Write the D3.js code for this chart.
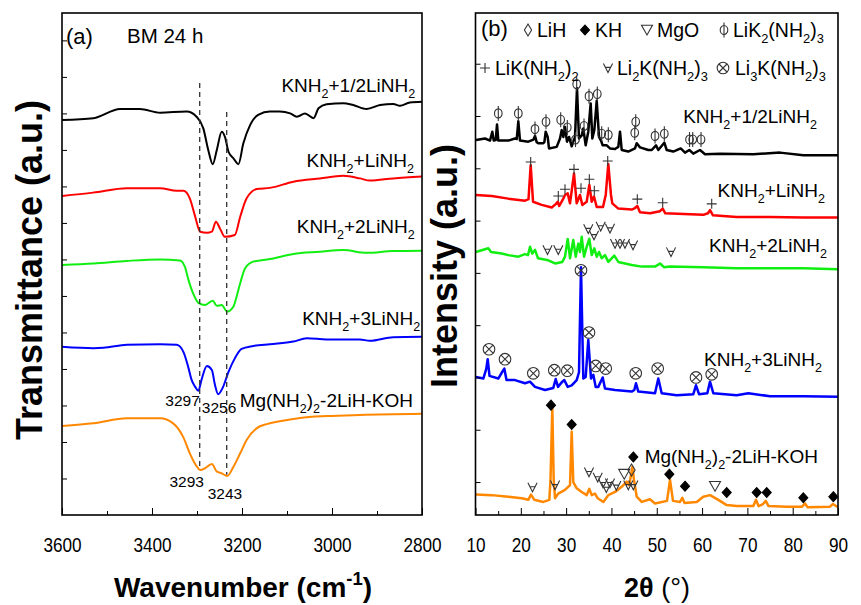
<!DOCTYPE html>
<html>
<head>
<meta charset="utf-8">
<script src="https://cdn.jsdelivr.net/npm/d3@7"></script>
<style>
body { margin: 0; background: #fff; }
text { font-family: Arial, "Liberation Sans", sans-serif; fill: #000; }
</style>
</head>
<body>
<div id="chart"></div>
<script>
// ---- FTIR data (wavenumber cm-1, transmittance a.u.) ----
var ftirBlack = [[3600,10.82],[3530,10.87],[3471,11.12],[3427,11.12],[3382,11.02],[3323,11.05],[3301,10.91],[3286,10.59],[3275,10.00],[3265,9.61],[3256,10.00],[3245,10.50],[3238,10.36],[3230,9.95],[3219,9.77],[3208,9.61],[3197,10.18],[3182,10.68],[3164,10.96],[3138,11.05],[3116,11.05],[3093,11.00],[3078,10.91],[3060,11.00],[3041,10.87],[3030,11.14],[3012,11.25],[2975,11.28],[2953,11.23],[2923,11.12],[2893,11.23],[2864,11.26],[2849,11.21],[2827,11.30],[2800,11.32]];
var ftirRed = [[3600,8.74],[3531,8.83],[3456,8.95],[3382,8.95],[3345,8.88],[3330,8.88],[3316,8.67],[3304,8.17],[3293,7.76],[3278,7.73],[3267,7.76],[3258,8.03],[3249,7.85],[3238,7.62],[3216,7.67],[3204,8.17],[3190,8.67],[3167,8.93],[3138,8.96],[3086,9.13],[3027,9.22],[2975,9.29],[2938,9.22],[2916,9.16],[2864,9.22],[2800,9.27]];
var ftirGreen = [[3600,6.85],[3530,6.89],[3456,6.96],[3382,7.00],[3338,6.97],[3327,6.80],[3319,6.44],[3308,6.05],[3297,5.81],[3282,5.75],[3275,5.80],[3265,5.87],[3256,5.73],[3245,5.75],[3233,5.57],[3219,5.71],[3212,5.98],[3204,6.35],[3193,6.76],[3175,6.94],[3138,7.01],[3086,7.15],[3027,7.21],[2975,7.26],[2923,7.18],[2864,7.23],[2800,7.24]];
var ftirBlue = [[3600,4.61],[3530,4.57],[3508,4.58],[3456,4.66],[3382,4.68],[3345,4.66],[3330,4.46],[3319,4.03],[3312,3.70],[3304,3.51],[3297,3.40],[3290,3.70],[3278,4.08],[3267,3.97],[3260,3.56],[3253,3.31],[3242,3.51],[3230,3.92],[3216,4.29],[3201,4.55],[3175,4.63],[3138,4.68],[3086,4.75],[3056,4.84],[3012,4.81],[2938,4.81],[2916,4.77],[2864,4.87],[2800,4.88]];
var ftirOrange = [[3600,2.44],[3530,2.51],[3456,2.65],[3382,2.65],[3353,2.51],[3330,2.12],[3316,1.69],[3301,1.34],[3293,1.23],[3282,1.28],[3267,1.40],[3256,1.19],[3245,1.14],[3233,1.07],[3219,1.32],[3204,1.69],[3190,2.05],[3167,2.38],[3145,2.49],[3116,2.57],[3071,2.66],[3011,2.71],[2938,2.74],[2800,2.77]];

// ---- XRD data (2theta deg, intensity a.u.) ----
var xrdBlack = [[10.1,6.54],[12.1,6.57],[13.2,6.53],[13.71,6.70],[14.02,6.53],[14.46,6.54],[14.75,6.84],[15.03,6.53],[17.24,6.53],[18.72,6.57],[19.1,6.56],[19.45,6.90],[19.82,6.53],[21.65,6.51],[22.8,6.55],[23.13,6.62],[23.5,6.5],[23.86,6.48],[24.9,6.48],[25.2,6.5],[25.49,6.70],[25.93,6.60],[26.22,6.38],[27.92,6.41],[28.65,6.57],[29.02,6.73],[29.38,6.60],[29.75,6.79],[30.19,6.51],[30.64,6.60],[31.23,6.42],[31.96,6.60],[32.4,7.53],[32.84,6.57],[33.44,6.63],[33.79,6.76],[34.32,6.44],[34.89,6.70],[35.42,7.24],[35.78,6.57],[36.22,6.73],[36.75,7.29],[37.26,6.60],[37.70,6.53],[38.07,6.44],[38.96,6.44],[39.68,6.38],[40.79,6.37],[41.52,6.41],[41.89,6.70],[42.27,6.35],[43.72,6.32],[45.2,6.38],[45.58,6.48],[46.3,6.40],[48.14,6.35],[48.89,6.35],[49.84,6.44],[50.34,6.35],[51.67,6.49],[52.2,6.35],[53.65,6.32],[55.29,6.38],[56.24,6.30],[57.19,6.35],[58.07,6.28],[59.55,6.35],[60.65,6.27],[63.96,6.28],[71.31,6.27],[77.2,6.30],[82.35,6.25],[90,6.25]];
var xrdRed = [[10.1,5.49],[13.58,5.47],[17.24,5.42],[20.92,5.38],[21.7,5.41],[22.18,6.06],[22.7,5.36],[24.61,5.30],[26.82,5.25],[27.77,5.32],[28.14,5.36],[28.49,5.28],[29.38,5.42],[29.75,5.49],[30.35,5.52],[30.86,5.33],[31.74,5.90],[32.33,5.33],[33.06,5.49],[33.57,5.30],[34.54,5.36],[35.12,5.68],[35.65,5.36],[36.15,5.46],[36.75,5.26],[38.14,5.26],[38.74,5.49],[39.31,6.08],[39.9,5.49],[40.19,5.33],[41.52,5.23],[44.47,5.21],[45.2,5.24],[45.71,5.28],[46.3,5.16],[48.51,5.14],[50.72,5.18],[51.31,5.23],[51.89,5.14],[57.34,5.12],[60.27,5.11],[61.31,5.14],[61.75,5.20],[62.41,5.10],[67.65,5.07],[75,5.07],[82.35,5.06],[90,5.06]];
var xrdGreen = [[10.1,4.40],[12.82,4.47],[13.42,4.40],[15.78,4.37],[17.24,4.34],[19.45,4.31],[20.92,4.36],[21.59,4.34],[22.03,4.50],[22.54,4.37],[23.13,4.44],[23.79,4.28],[26.07,4.24],[27.55,4.18],[29.16,4.21],[29.75,4.31],[30.35,4.65],[30.86,4.28],[31.58,4.63],[32.11,4.31],[32.69,4.56],[33.06,4.40],[33.44,4.69],[33.95,4.31],[34.54,4.50],[35.12,4.65],[35.65,4.34],[36.22,4.47],[36.75,4.31],[37.26,4.40],[37.85,4.28],[38.58,4.34],[39.31,4.21],[40.63,4.33],[41.52,4.21],[43.0,4.18],[44.47,4.15],[46.68,4.12],[49.62,4.12],[50.72,4.18],[51.6,4.11],[52.93,4.12],[60.27,4.11],[67.65,4.09],[75,4.09],[82.35,4.09],[90,4.07]];
var xrdBlue = [[10.1,2.01],[11.72,1.98],[12.36,2.16],[12.69,2.35],[13.09,2.03],[15.03,1.98],[15.85,2.10],[16.36,2.17],[16.84,1.95],[18.72,1.95],[20.92,1.89],[22.03,1.92],[23.13,1.82],[25.34,1.76],[27.17,1.80],[27.70,1.97],[28.21,1.82],[29.16,1.92],[29.60,1.95],[30.35,1.82],[31.23,1.85],[32.33,1.95],[32.84,2.10],[33.28,4.11],[33.79,1.98],[34.32,2.01],[34.89,2.72],[35.49,1.98],[36.0,2.05],[36.53,1.82],[37.10,1.82],[38.07,2.00],[38.58,1.79],[40.79,1.76],[44.47,1.73],[45.05,1.76],[45.42,1.89],[45.93,1.73],[49.62,1.70],[50.34,1.98],[51.09,1.70],[54.40,1.66],[58.07,1.68],[58.66,1.85],[59.33,1.68],[61.16,1.70],[61.75,1.92],[62.48,1.70],[67.65,1.66],[70.21,1.70],[75,1.64],[82.35,1.64],[90,1.63]];
var xrdOrange = [[10.1,-0.24],[13.58,-0.25],[17.24,-0.28],[20.20,-0.31],[21.65,-0.34],[22.25,-0.24],[22.98,-0.34],[24.96,-0.38],[26.29,-0.34],[26.55,0.04],[26.95,1.41],[27.26,0.04],[27.55,-0.31],[28.27,-0.22],[29.75,-0.15],[30.86,-0.06],[31.23,0.96],[31.58,0.0],[32.33,-0.12],[33.44,-0.19],[34.54,-0.25],[35.12,-0.13],[35.65,-0.25],[36.37,-0.22],[36.97,-0.31],[38.21,-0.38],[39.31,-0.25],[40.79,-0.19],[42.27,-0.09],[43.37,0.01],[43.94,-0.06],[44.61,0.29],[44.98,0.04],[45.58,-0.28],[46.68,-0.38],[48.51,-0.33],[49.62,-0.41],[52.26,-0.36],[52.93,0.04],[53.59,-0.36],[55.13,-0.38],[55.64,-0.30],[56.13,-0.40],[58.82,-0.38],[60.27,-0.28],[61.75,-0.25],[63.59,-0.34],[65.44,-0.44],[67.65,-0.46],[71.31,-0.46],[71.91,-0.34],[72.46,-0.46],[73.45,-0.42],[74.05,-0.36],[74.67,-0.46],[78.68,-0.47],[82.06,-0.47],[82.72,-0.41],[83.27,-0.48],[88.24,-0.47],[88.83,-0.42],[90,-0.48]];

// ---- phase markers (2theta, label height) ----
var markLiK2 = [[15.03,7.05],[19.45,7.05],[23.13,6.75],[25.56,6.89],[28.8,6.93],[30.26,6.78],[32.07,6.55],[32.33,7.61],[33.95,6.81],[35.05,7.38],[36.88,7.42],[37.85,6.66],[39.31,6.64],[45.36,6.89],[45.14,6.68],[49.62,6.62],[51.67,6.66],[57.23,6.55],[57.94,6.55],[59.77,6.55]];
var markLiK = [[22.18,6.12],[28.27,5.47],[29.75,5.60],[31.74,5.98],[33.28,5.62],[35.12,5.79],[36.22,5.57],[39.18,6.14],[45.71,5.41],[51.31,5.34],[62.13,5.32]];
var markLi2K = [[25.89,4.44],[28.27,4.44],[34.89,4.84],[36.15,4.72],[37.63,4.89],[39.68,4.85],[40.79,4.56],[41.89,4.56],[42.99,4.56],[44.76,4.53],[53.15,4.40],
  [22.58,-0.10],[27.55,-0.06],[35.05,0.19],[36.97,0.09],[38.14,-0.02],[38.87,-0.11],[39.68,-0.02],[41.07,-0.07],[43.72,-0.06],[44.83,-0.06]];
var markLi3K = [[12.98,2.54],[16.51,2.35],[22.76,2.08],[27.39,2.14],[30.26,2.13],[33.28,4.05],[35.05,2.86],[36.53,2.22],[38.74,2.17],[45.36,2.08],[50.21,2.17],[58.66,2.00],[62.13,2.06]];
var markKH = [[26.66,1.47],[31.23,1.10],[44.83,0.48],[52.77,0.15],[56.24,-0.08],[65.44,-0.20],[72.06,-0.20],[74.27,-0.20],[82.35,-0.30],[88.97,-0.28]];
var markMgO = [[42.82,0.15],[62.86,-0.08]];
var markLiH = [[44.43,0.23]];

var sampleNames = ["KNH_2+1/2LiNH_2", "KNH_2+LiNH_2", "KNH_2+2LiNH_2", "KNH_2+3LiNH_2", "Mg(NH_2)_2-2LiH-KOH"];
var colors = ["#000000", "#ff0000", "#11ee11", "#0000ff", "#ff8800"];
var ftirTicks = [3600, 3400, 3200, 3000, 2800];
var xrdTicks = [10, 20, 30, 40, 50, 60, 70, 80, 90];
var peakNotes = [["3297", 3332, 2.98], ["3256", 3251, 2.79], ["3293", 3323, 0.76], ["3243", 3238, 0.45]];

var W = 861, H = 605;
var svg = d3.select("#chart").append("svg").attr("width", W).attr("height", H);

var xA = d3.scaleLinear().domain([3600, 2800]).range([62, 422]);
var yA = d3.scaleLinear().domain([0, 13.75]).range([515, 13]);
var xB = d3.scaleLinear().domain([10, 90]).range([475.5, 838]);
var yB = d3.scaleLinear().domain([-0.63, 8.97]).range([515, 13]);

// rich text with _sub and ^{sup}
function rich(sel, str, size) {
  var re = /([_^])(\{[^}]*\}|.)/g, m, last = 0, toks = [];
  while ((m = re.exec(str))) {
    if (m.index > last) toks.push({t: str.slice(last, m.index), s: 0});
    var c = m[2];
    if (c[0] == "{") c = c.slice(1, -1);
    toks.push({t: c, s: m[1] == "_" ? 1 : -1});
    last = re.lastIndex;
  }
  if (last < str.length) toks.push({t: str.slice(last), s: 0});
  var cur = 0;
  toks.forEach(function(k) {
    var target = k.s == 1 ? size * 0.3 : (k.s == -1 ? -size * 0.42 : 0);
    var ts = sel.append("tspan").attr("dy", target - cur).text(k.t);
    if (k.s) ts.attr("font-size", size * 0.66);
    cur = target;
  });
}

function mark(g, type, x, y) {
  var s = g.append("g").attr("transform", "translate(" + x + "," + y + ")")
    .attr("fill", "none").attr("stroke", "#333").attr("stroke-width", 1.1);
  if (type == "phi") {
    s.append("ellipse").attr("rx", 3.8).attr("ry", 4.5);
    s.append("line").attr("y1", -7.5).attr("y2", 7.5);
  } else if (type == "plus") {
    s.append("path").attr("d", "M-5,0H5M0,-5V5");
  } else if (type == "forall") {
    s.append("path").attr("d", "M-4.6,-4.6L0,4.6L4.6,-4.6M-2.6,-0.6H2.6");
  } else if (type == "otimes") {
    s.append("circle").attr("r", 5.8);
    s.append("path").attr("d", "M-4,-4L4,4M-4,4L4,-4");
  } else if (type == "tri") {
    s.append("path").attr("d", "M-5.5,-4.8H5.5L0,5Z");
  } else if (type == "kh") {
    s.append("path").attr("d", "M0,-5L4.5,0L0,5L-4.5,0Z").attr("fill", "#000").attr("stroke", "#000");
  } else if (type == "lih") {
    s.append("path").attr("d", "M0,-6L3.6,0L0,6L-3.6,0Z");
  }
}

function tickText(g) {
  g.select(".domain").remove();
  g.selectAll("text").attr("font-size", 20).attr("font-family", "Arial, 'Liberation Sans', sans-serif")
    .attr("transform", "scale(0.86,1)");
}

// ================= panel (a) FTIR =================
var ga = svg.append("g");
var lineA = d3.line().x(function(d) { return xA(d[0]); }).y(function(d) { return yA(d[1]); }).curve(d3.curveMonotoneX);
[ftirBlack, ftirRed, ftirGreen, ftirBlue, ftirOrange].forEach(function(s, i) {
  ga.append("path").datum(s).attr("d", lineA).attr("fill", "none")
    .attr("stroke", colors[i]).attr("stroke-width", 2);
});

// dashed guides
ga.append("line").attr("x1", xA(3294)).attr("x2", xA(3294)).attr("y1", yA(11.83)).attr("y2", yA(1.25))
  .attr("stroke", "#333").attr("stroke-width", 1.3).attr("stroke-dasharray", "5,4");
ga.append("line").attr("x1", xA(3234)).attr("x2", xA(3234)).attr("y1", yA(11.04)).attr("y2", yA(1.1))
  .attr("stroke", "#333").attr("stroke-width", 1.3).attr("stroke-dasharray", "5,4");

peakNotes.forEach(function(p) {
  ga.append("text").attr("x", xA(p[1])).attr("y", yA(p[2])).attr("text-anchor", "middle")
    .attr("font-size", 15.5).text(p[0]);
});

var labA = [[2815, 11.59], [2818, 9.53], [2816, 7.72], [2804, 5.20], [2820, 2.96]];
sampleNames.forEach(function(n, i) {
  var t = ga.append("text").attr("x", xA(labA[i][0])).attr("y", yA(labA[i][1]))
    .attr("text-anchor", "end").attr("font-size", 19);
  rich(t, n, 19);
});

ga.append("text").attr("x", 66).attr("y", 44).attr("font-size", 22).text("(a)");
ga.append("text").attr("x", 127).attr("y", 43).attr("font-size", 20.5).text("BM 24 h");

// axes a
ga.append("g").attr("transform", "translate(0,515)")
  .call(d3.axisBottom(xA).tickValues(ftirTicks).tickSize(-7).tickPadding(23).tickFormat(d3.format("d")))
  .call(tickText);
ga.append("g").attr("transform", "translate(0,515)")
  .call(d3.axisBottom(xA).tickValues([3500, 3300, 3100, 2900]).tickSize(-4).tickFormat(""))
  .call(function(g) { g.select(".domain").remove(); });
ga.append("g").attr("transform", "translate(62,0)")
  .call(d3.axisLeft(yA).tickValues(d3.range(1, 14)).tickSize(-5).tickFormat(""))
  .call(function(g) { g.select(".domain").remove(); });
ga.append("rect").attr("x", 62).attr("y", 13).attr("width", 360).attr("height", 502)
  .attr("fill", "none").attr("stroke", "#000").attr("stroke-width", 1.6);

// ================= panel (b) XRD =================
var gb = svg.append("g");
var lineB = d3.line().x(function(d) { return xB(d[0]); }).y(function(d) { return yB(d[1]); });
[xrdBlack, xrdRed, xrdGreen, xrdBlue, xrdOrange].forEach(function(s, i) {
  gb.append("path").datum(s).attr("d", lineB).attr("fill", "none")
    .attr("stroke", colors[i]).attr("stroke-width", 2.5).attr("stroke-linejoin", "round");
});

var markSets = [[markLiK2, "phi"], [markLiK, "plus"], [markLi2K, "forall"], [markLi3K, "otimes"],
  [markKH, "kh"], [markMgO, "tri"], [markLiH, "lih"]];
markSets.forEach(function(ms) {
  ms[0].forEach(function(d) { mark(gb, ms[1], xB(d[0]), yB(d[1])); });
});

var labB = [[85.37, 6.86], [87.13, 5.45], [87.58, 4.40], [86.47, 2.22], [85.59, 0.36]];
sampleNames.forEach(function(n, i) {
  var t = gb.append("text").attr("x", xB(labB[i][0])).attr("y", yB(labB[i][1]))
    .attr("text-anchor", "end").attr("font-size", 19);
  rich(t, n, 19);
});

// legend
gb.append("text").attr("x", 481).attr("y", 36).attr("font-size", 22).text("(b)");
var legend = [["lih", "LiH", 528, 30, 537], ["kh", "KH", 585, 30, 595], ["tri", "MgO", 647, 30, 657],
  ["phi", "LiK_2(NH_2)_3", 724, 30, 733], ["plus", "LiK(NH_2)_2", 485, 68, 495],
  ["forall", "Li_2K(NH_2)_3", 608, 68, 617], ["otimes", "Li_3K(NH_2)_3", 723, 68, 735]];
legend.forEach(function(l) {
  mark(gb, l[0], l[2], l[3]);
  var t = gb.append("text").attr("x", l[4]).attr("y", l[3] + 7).attr("font-size", 19.5);
  rich(t, l[1], 19.5);
});

// axes b
gb.append("g").attr("transform", "translate(0,515)")
  .call(d3.axisBottom(xB).tickValues(xrdTicks).tickSize(-7).tickPadding(23))
  .call(tickText);
gb.append("g").attr("transform", "translate(0,515)")
  .call(d3.axisBottom(xB).tickValues(d3.range(15, 90, 10)).tickSize(-4).tickFormat(""))
  .call(function(g) { g.select(".domain").remove(); });
gb.append("g").attr("transform", "translate(475.5,0)")
  .call(d3.axisLeft(yB).tickValues(d3.range(0, 9)).tickSize(-5).tickFormat(""))
  .call(function(g) { g.select(".domain").remove(); });
gb.append("rect").attr("x", 475.5).attr("y", 13).attr("width", 362.5).attr("height", 502)
  .attr("fill", "none").attr("stroke", "#000").attr("stroke-width", 1.6);

// axis titles
var tx = svg.append("text").attr("x", 243).attr("y", 597).attr("text-anchor", "middle")
  .attr("font-size", 28).attr("font-weight", "bold");
rich(tx, "Wavenumber (cm^{-1})", 28);
var t2 = svg.append("text").attr("x", 657).attr("y", 597).attr("text-anchor", "middle").attr("font-size", 27);
t2.append("tspan").attr("font-weight", "bold").text("2\u03b8");
t2.append("tspan").text(" (\u00b0)");
svg.append("text").attr("transform", "translate(42,270) rotate(-90)").attr("text-anchor", "middle")
  .attr("font-size", 36).attr("font-weight", "bold").text("Transmittance (a.u.)");
svg.append("text").attr("transform", "translate(457,266) rotate(-90)").attr("text-anchor", "middle")
  .attr("font-size", 36).attr("font-weight", "bold").text("Intensity (a.u.)");
</script>
</body>
</html>
